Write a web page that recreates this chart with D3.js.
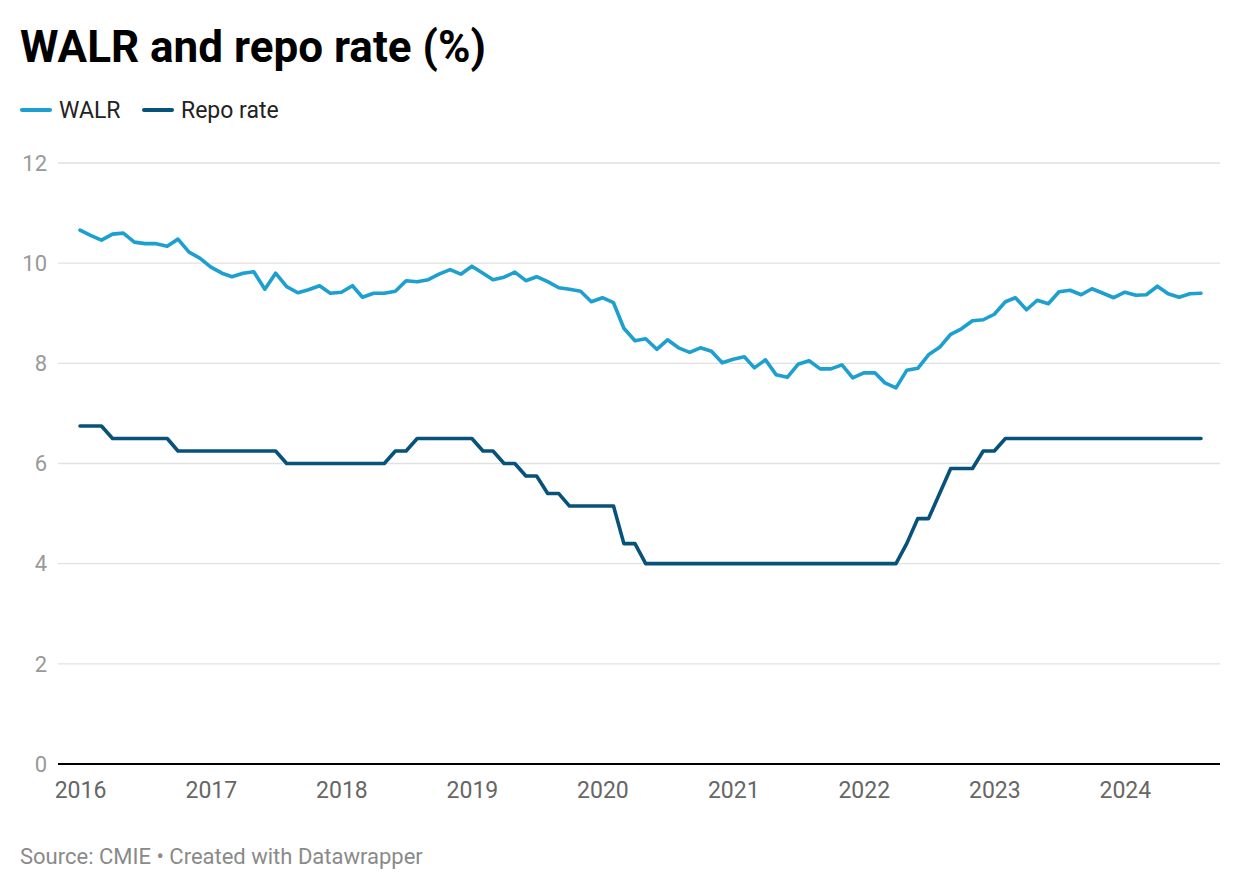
<!DOCTYPE html>
<html>
<head>
<meta charset="utf-8">
<script src="https://cdn.jsdelivr.net/npm/d3@7"></script>
<style>
  body { margin: 0; background: #fff; font-family: Roboto, "Noto Sans", sans-serif; }
  svg text { font-family: Roboto, "Noto Sans", sans-serif; }
</style>
</head>
<body>
<div id="chart"></div>
<script>
// monthly, Jan 2016 .. Aug 2024
var startMonth = "2016-01";

var walr = [
  10.66, 10.55, 10.46, 10.58, 10.60, 10.42, 10.39, 10.39, 10.34, 10.48, 10.22, 10.10,
  9.92, 9.80, 9.73, 9.80, 9.83, 9.48, 9.80, 9.53, 9.41, 9.47, 9.55, 9.40,
  9.42, 9.55, 9.32, 9.40, 9.40, 9.44, 9.65, 9.63, 9.67, 9.78, 9.87, 9.78,
  9.94, 9.80, 9.67, 9.72, 9.82, 9.65, 9.73, 9.63, 9.51, 9.48, 9.44, 9.23,
  9.31, 9.21, 8.70, 8.45, 8.49, 8.28, 8.47, 8.31, 8.22, 8.31, 8.24, 8.01,
  8.08, 8.13, 7.91, 8.07, 7.77, 7.72, 7.98, 8.05, 7.89, 7.89, 7.97, 7.71,
  7.81, 7.81, 7.61, 7.51, 7.86, 7.90, 8.17, 8.32, 8.58, 8.69, 8.85, 8.87,
  8.98, 9.23, 9.31, 9.07, 9.26, 9.19, 9.43, 9.46, 9.37, 9.49, 9.40, 9.31,
  9.42, 9.36, 9.37, 9.54, 9.39, 9.32, 9.39, 9.40
];

var repo = [
  6.75, 6.75, 6.75, 6.50, 6.50, 6.50, 6.50, 6.50, 6.50, 6.25, 6.25, 6.25,
  6.25, 6.25, 6.25, 6.25, 6.25, 6.25, 6.25, 6.00, 6.00, 6.00, 6.00, 6.00,
  6.00, 6.00, 6.00, 6.00, 6.00, 6.25, 6.25, 6.50, 6.50, 6.50, 6.50, 6.50,
  6.50, 6.25, 6.25, 6.00, 6.00, 5.75, 5.75, 5.40, 5.40, 5.15, 5.15, 5.15,
  5.15, 5.15, 4.40, 4.40, 4.00, 4.00, 4.00, 4.00, 4.00, 4.00, 4.00, 4.00,
  4.00, 4.00, 4.00, 4.00, 4.00, 4.00, 4.00, 4.00, 4.00, 4.00, 4.00, 4.00,
  4.00, 4.00, 4.00, 4.00, 4.40, 4.90, 4.90, 5.40, 5.90, 5.90, 5.90, 6.25,
  6.25, 6.50, 6.50, 6.50, 6.50, 6.50, 6.50, 6.50, 6.50, 6.50, 6.50, 6.50,
  6.50, 6.50, 6.50, 6.50, 6.50, 6.50, 6.50, 6.50
];

var seriesNames = ["WALR", "Repo rate"];
var seriesColors = ["#1d9fcf", "#07527a"];
var yTicks = [0, 2, 4, 6, 8, 10, 12];
var xTickYears = [2016, 2017, 2018, 2019, 2020, 2021, 2022, 2023, 2024];

var width = 1240, height = 890;
var parseMonth = d3.timeParse("%Y-%m");
var start = parseMonth(startMonth);
var dates = walr.map(function (d, i) { return d3.timeMonth.offset(start, i); });

var svg = d3.select("#chart").append("svg")
    .attr("width", width)
    .attr("height", height);

var x = d3.scaleTime()
    .domain([dates[0], dates[dates.length - 1]])
    .range([80, 1201]);

var y = d3.scaleLinear()
    .domain([0, 12])
    .range([764, 163]);

// title
svg.append("text")
    .attr("x", 20)
    .attr("y", 62)
    .style("font-size", "44px")
    .style("font-weight", 700)
    .attr("fill", "#000")
    .text("WALR and repo rate (%)");

// legend
var legend = svg.append("g").attr("class", "legend");
var lx = [20, 142];
seriesNames.forEach(function (name, i) {
    legend.append("line")
        .attr("x1", lx[i] + 2).attr("x2", lx[i] + 30)
        .attr("y1", 110).attr("y2", 110)
        .attr("stroke", seriesColors[i])
        .attr("stroke-width", 4)
        .attr("stroke-linecap", "round");
    legend.append("text")
        .attr("x", lx[i] + 39)
        .attr("y", 118)
        .style("font-size", "23px")
        .attr("fill", "#222")
        .text(name);
});

// y grid + labels
var yAxis = svg.append("g").attr("class", "y axis");
yAxis.selectAll("line")
    .data(yTicks)
    .enter().append("line")
    .attr("x1", 58).attr("x2", 1220)
    .attr("y1", function (d) { return y(d); })
    .attr("y2", function (d) { return y(d); })
    .attr("stroke", function (d) { return d === 0 ? "#000" : "#e1e1e1"; })
    .attr("stroke-width", function (d) { return d === 0 ? 2 : 1.3; });

yAxis.selectAll("text")
    .data(yTicks)
    .enter().append("text")
    .attr("x", 47)
    .attr("y", function (d) { return y(d); })
    .attr("dy", "0.35em")
    .attr("text-anchor", "end")
    .style("font-size", "22px")
    .attr("fill", "#999")
    .text(function (d) { return d; });

// x axis labels
var xAxis = d3.axisBottom(x)
    .tickValues(xTickYears.map(function (yr) { return new Date(yr, 0, 1); }))
    .tickFormat(d3.timeFormat("%Y"))
    .tickSize(0)
    .tickPadding(0);

var gx = svg.append("g")
    .attr("transform", "translate(0,798)")
    .call(xAxis);
gx.select(".domain").remove();
gx.selectAll("text")
    .attr("y", 0)
    .attr("dy", 0)
    .style("font-size", "23px")
    .style("font-family", "Roboto, sans-serif")
    .attr("fill", "#666");

// lines
var line = d3.line()
    .x(function (d, i) { return x(dates[i]); })
    .y(function (d) { return y(d); });

[walr, repo].forEach(function (s, i) {
    svg.append("path")
        .datum(s)
        .attr("d", line)
        .attr("fill", "none")
        .attr("stroke", seriesColors[i])
        .attr("stroke-width", 3.6)
        .attr("stroke-linejoin", "round")
        .attr("stroke-linecap", "round");
});

// footer
svg.append("text")
    .attr("x", 20)
    .attr("y", 864)
    .style("font-size", "22px")
    .attr("fill", "#8a8a8a")
    .text("Source: CMIE \u2022 Created with Datawrapper");
</script>
</body>
</html>
